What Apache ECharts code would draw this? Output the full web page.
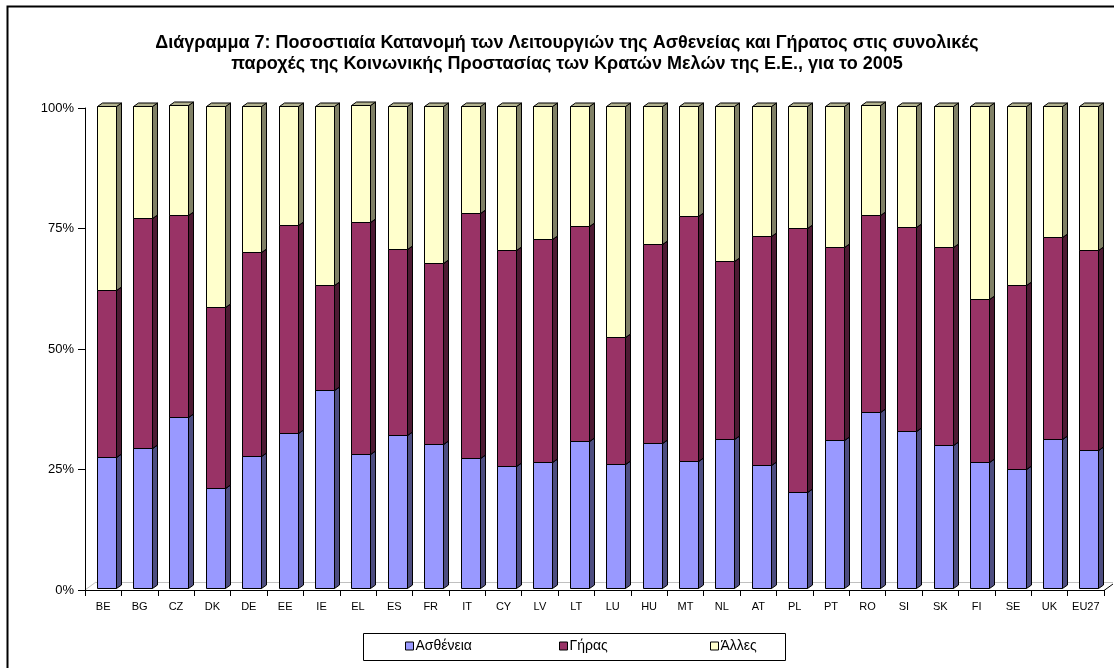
<!DOCTYPE html>
<html><head><meta charset="utf-8">
<script src="https://cdn.jsdelivr.net/npm/echarts@6/dist/echarts.min.js"></script>
<style>html,body{margin:0;padding:0;background:#fff}#c{width:1114px;height:668px}</style>
</head><body><div id="c"></div>
<script>
// ---- data (percent shares, 2005) ----
const categories = ['BE','BG','CZ','DK','DE','EE','IE','EL','ES','FR','IT','CY','LV','LT','LU','HU','MT','NL','AT','PL','PT','RO','SI','SK','FI','SE','UK','EU27'];
const sickness = [27.0,29.0,35.3,20.7,27.2,32.0,40.9,27.8,31.6,29.8,26.8,25.3,26.0,30.4,25.7,29.9,26.3,30.9,25.5,19.8,30.5,36.4,32.4,29.5,26.0,24.5,30.9,28.6];
const oldAge   = [34.8,47.7,41.9,37.5,42.4,43.2,21.8,48.0,38.7,37.6,50.8,44.8,46.2,44.7,26.3,41.4,50.7,36.9,47.4,54.7,40.2,40.8,42.4,41.2,33.8,38.2,41.9,41.5];
const other    = [38.2,23.3,22.8,41.8,30.4,24.8,37.3,24.2,29.7,32.6,22.4,29.9,27.8,24.9,48.0,28.7,23.0,32.2,27.1,25.5,29.3,22.8,25.2,29.3,40.2,37.3,27.2,29.9];
const seriesNames = ['Ασθένεια','Γήρας','Άλλες'];
const yTicks = [0,25,50,75,100];
const titleText = 'Διάγραμμα 7: Ποσοστιαία Κατανομή των Λειτουργιών της Ασθενείας και Γήρατος στις συνολικές\nπαροχές της Κοινωνικής Προστασίας των Κρατών Μελών της Ε.Ε., για το 2005';

// ---- styles ----
const FONT = '"Liberation Sans", Arial, sans-serif';
const palette = [
  {front:'#9999FF', side:'#4D4D80', top:'#7A7ACC'},
  {front:'#993366', side:'#4D1A33', top:'#7A2952'},
  {front:'#FFFFCC', side:'#808066', top:'#B3B38F'}
];
const GRID = {left:85, right:10, top:108, bottom:78};
const OFF_X = 3, OFF_Y = -2.5, DEPTH_X = 5, DEPTH_Y = 3.5, BAR_FRAC = 0.52;

// ---- 100% stacking ----
const raw = [sickness, oldAge, other];
const totals = categories.map((_, i) => raw.reduce((s, a) => s + a[i], 0));
const stacked = raw.map((arr, si) => arr.map((v, i) => {
  let lo = 0;
  for (let k = 0; k < si; k++) lo += raw[k][i] / totals[i] * 100;
  return [i, lo, lo + v / totals[i] * 100];
}));

function makeRender(c) {
  return function (params, api) {
    const ci = api.value(0), lo = api.value(1), hi = api.value(2);
    const band = api.size([1, 0])[0];
    const w = Math.round(band * BAR_FRAC);
    const p0 = api.coord([ci, lo]), p1 = api.coord([ci, hi]);
    const x = Math.round(p0[0] - w / 2 + OFF_X) + 0.5;
    const yb = Math.round(p0[1] + OFF_Y) + 0.5, yt = Math.round(p1[1] + OFF_Y) + 0.5;
    const dx = DEPTH_X, dy = DEPTH_Y;
    return {type:'group', children:[
      {type:'polygon', shape:{points:[[x+w,yb],[x+w+dx,yb-dy],[x+w+dx,yt-dy],[x+w,yt]]}, style:{fill:c.side, stroke:'#000', lineWidth:1}},
      {type:'polygon', shape:{points:[[x,yt],[x+dx,yt-dy],[x+w+dx,yt-dy],[x+w,yt]]}, style:{fill:c.top, stroke:'#000', lineWidth:1}},
      {type:'rect', shape:{x:x, y:yt, width:w, height:yb-yt}, style:{fill:c.front, stroke:'#000', lineWidth:1}}
    ]};
  };
}

const chart = echarts.init(document.getElementById('c'), null, {renderer:'canvas'});
const axisY = 668 - GRID.bottom, axisR = 1114 - GRID.right;
const legendX = [405, 559, 710];

chart.setOption({
  animation:false,
  backgroundColor:'#fff',
  textStyle:{fontFamily:FONT},
  grid:GRID,
  xAxis:{type:'category', data:categories,
    axisLine:{lineStyle:{color:'#000', width:1}},
    axisTick:{show:true, length:6, lineStyle:{color:'#000'}},
    axisLabel:{interval:0, color:'#000', fontSize:11, margin:11, fontFamily:FONT},
    splitLine:{show:false}},
  yAxis:{type:'value', min:0, max:100, interval:25,
    axisLine:{show:true, lineStyle:{color:'#000', width:1}},
    axisTick:{show:true, length:7, lineStyle:{color:'#000'}},
    axisLabel:{color:'#000', fontSize:13, margin:11, fontFamily:FONT,
      formatter:v => yTicks.includes(v) ? v + '%' : ''},
    splitLine:{show:false}},
  legend: seriesNames.map((n, i) => ({
    data:[n], left:legendX[i], top:639, icon:'rect', itemWidth:8, itemHeight:8,
    itemGap:0, padding:0,
    itemStyle:{borderColor:'#000', borderWidth:1},
    textStyle:{fontSize:14, color:'#000', fontFamily:FONT, padding:[0,0,0,-3]}
  })),
  graphic:[
    {type:'rect', z:-10, shape:{x:7.5, y:6.5, width:1300, height:800}, style:{fill:'none', stroke:'#000', lineWidth:2}},
    {type:'text', style:{text:titleText, x:567, y:33, textAlign:'center', font:'bold 18px ' + FONT, lineHeight:21, fill:'#000'}},
    {type:'line', z:-5, shape:{x1:GRID.left, y1:axisY, x2:GRID.left+11, y2:axisY-8}, style:{stroke:'#C0C0C0', lineWidth:1}},
    {type:'line', z:-5, shape:{x1:GRID.left+11, y1:axisY-7.5, x2:axisR+9, y2:axisY-7.5}, style:{stroke:'#C0C0C0', lineWidth:1}},
    {type:'line', z:-5, shape:{x1:axisR, y1:axisY+0.5, x2:axisR+9, y2:axisY-6}, style:{stroke:'#000', lineWidth:1}},
    {type:'rect', z:-5, shape:{x:363.5, y:633.5, width:422, height:27}, style:{fill:'none', stroke:'#000', lineWidth:1}}
  ],
  series: stacked.map((d, si) => ({
    type:'custom', name:seriesNames[si], data:d,
    encode:{x:0, y:[1,2]},
    itemStyle:{color:palette[si].front, borderColor:'#000', borderWidth:1},
    renderItem:makeRender(palette[si]), z:2 + si
  }))
});
</script></body></html>
